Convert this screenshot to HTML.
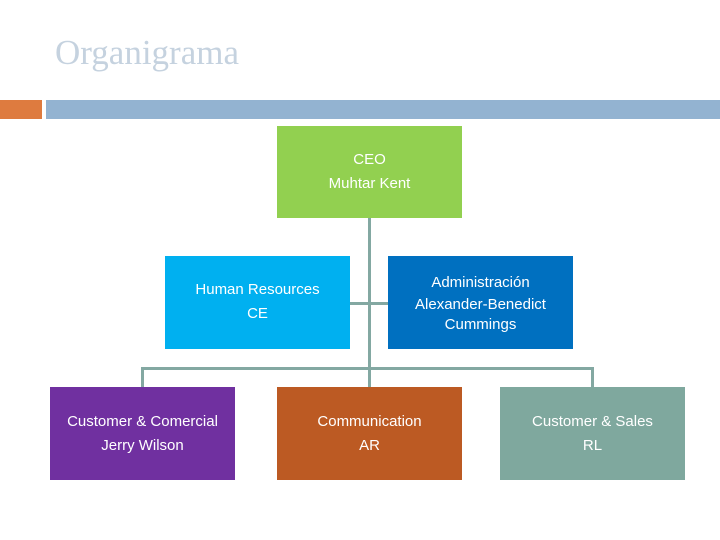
<!DOCTYPE html>
<html><head><style>
body{margin:0;width:720px;height:540px;background:#fff;position:relative;overflow:hidden;font-family:"Liberation Sans",sans-serif}
.t{position:absolute;left:55px;top:33px;font-family:"Liberation Serif",serif;font-size:35px;color:#c5d2df}
.b{position:absolute;color:#fff;font-size:15px;display:flex;flex-direction:column;justify-content:center;align-items:center;text-align:center;line-height:24px}
.l{position:absolute;background:#83a8a2}
</style></head><body>
<div class="t">Organigrama</div>
<div style="position:absolute;left:0;top:100px;width:42px;height:19px;background:#de7b3f"></div>
<div style="position:absolute;left:46px;top:100px;width:674px;height:19px;background:#93b3d1"></div>
<div class="l" style="left:368px;top:218px;width:3px;height:170px"></div>
<div class="l" style="left:350px;top:302px;width:38px;height:3px"></div>
<div class="l" style="left:141px;top:367px;width:453px;height:3px"></div>
<div class="l" style="left:141px;top:367px;width:3px;height:21px"></div>
<div class="l" style="left:591px;top:367px;width:3px;height:21px"></div>
<div class="b" style="left:277px;top:126px;width:185px;height:92px;background:#92d050">CEO<br>Muhtar Kent</div>
<div class="b" style="left:165px;top:256px;width:185px;height:93px;background:#00b0f0;padding-bottom:2px;box-sizing:border-box">Human Resources<br>CE</div>
<div class="b" style="left:388px;top:256px;width:185px;height:93px;background:#0070c0;line-height:20px"><span style="line-height:24px">Administración</span><span>Alexander-Benedict<br>Cummings</span></div>
<div class="b" style="left:50px;top:387px;width:185px;height:93px;background:#7030a0">Customer &amp; Comercial<br>Jerry Wilson</div>
<div class="b" style="left:277px;top:387px;width:185px;height:93px;background:#bc5a23">Communication<br>AR</div>
<div class="b" style="left:500px;top:387px;width:185px;height:93px;background:#7fa89e">Customer &amp; Sales<br>RL</div>
</body></html>
